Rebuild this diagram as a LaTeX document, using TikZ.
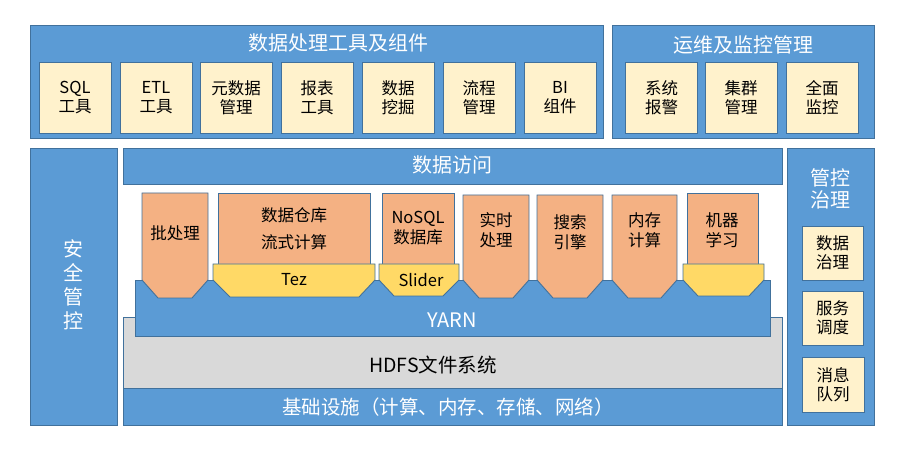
\documentclass[tikz,border=0pt]{standalone}
\usepackage{fontspec}
\setmainfont{Noto Sans CJK SC}
\definecolor{panelBlue}{HTML}{5B9BD5}
\definecolor{edgeBlue}{HTML}{41719C}
\definecolor{boxYellow}{HTML}{FFF2CC}
\definecolor{procOrange}{HTML}{F4B183}
\definecolor{engYellow}{HTML}{FFD966}
\definecolor{fsGray}{HTML}{D9D9D9}

\begin{document}
\begin{tikzpicture}[x = 1pt, y = -1pt]
	\tikzstyle{panelStyle} = [draw = edgeBlue, fill = panelBlue, line width = 0.9pt]
	\tikzstyle{titleStyle} = [text = white, align = center, inner sep = 0pt, font = \fontsize{20}{22}\selectfont]
	\tikzstyle{boxStyle} = [draw = edgeBlue, fill = boxYellow, line width = 0.9pt, align = center, inner sep = 0pt, font = \fontsize{16.5}{19}\selectfont]
	\tikzstyle{procStyle} = [draw = edgeBlue, fill = procOrange, line width = 0.9pt]
	\tikzstyle{engStyle} = [draw = edgeBlue, fill = engYellow, line width = 0.9pt]
	\tikzstyle{procText} = [align = center, inner sep = 0pt, font = \fontsize{16.5}{20}\selectfont]
	\useasboundingbox (0,0) rectangle (903,449);
	\draw[panelStyle] (30,25) rectangle (603,138);
	\node[titleStyle] (procTitle) at (338,43) {数据处理工具及组件};
	\foreach \x/\n/\t in {75/sqlTool/{SQL\\工具}, 156/etlTool/{ETL\\工具}, 236/metaTool/{元数据\\管理}, 317/reportTool/{报表\\工具}, 398/miningTool/{数据\\挖掘}, 479/flowTool/{流程\\管理}, 560/biTool/{BI\\组件}}
		\node[boxStyle, minimum width = 72pt, minimum height = 71pt] (\n) at (\x,97.5) {\t};
	\draw[panelStyle] (612,25) rectangle (874,138);
	\node[titleStyle] (opsTitle) at (743,45) {运维及监控管理};
	\foreach \x/\n/\t in {661.5/alarmBox/{系统\\报警}, 741/clusterBox/{集群\\管理}, 822/monitorBox/{全面\\监控}}
		\node[boxStyle, minimum width = 72pt, minimum height = 71pt] (\n) at (\x,97.5) {\t};
	\draw[panelStyle] (30,148) rectangle (117,425);
	\node[titleStyle, font = \fontsize{20}{24}\selectfont] (secTitle) at (73,285) {安\\全\\管\\控};
	\draw[panelStyle] (123,148) rectangle (782,184);
	\node[titleStyle] (accessTitle) at (452,165) {数据访问};
	\draw[panelStyle] (787,148) rectangle (874,425);
	\node[titleStyle] (govTitle) at (830,189) {管控\\治理};
	\node[boxStyle, minimum width = 61pt, minimum height = 54pt] (dataGov) at (832.5,253) {数据\\治理};
	\node[boxStyle, minimum width = 61pt, minimum height = 54pt] (serviceSched) at (832.5,318) {服务\\调度};
	\node[boxStyle, minimum width = 62pt, minimum height = 55pt] (msgQueue) at (833,384.5) {消息\\队列};
	\draw[draw = edgeBlue, fill = fsGray, line width = 0.9pt] (123,317) rectangle (782,388);
	\node[inner sep = 0pt, font = \fontsize{19.5}{22}\selectfont] (hdfs) at (433,365) {HDFS文件系统};
	\draw[panelStyle] (123,388) rectangle (782,425);
	\node[titleStyle, font = \fontsize{19.5}{22}\selectfont] (infra) at (448,407) {基础设施（计算、内存、存储、网络）};
	\draw[panelStyle] (135,280) rectangle (770,336);
	\node[titleStyle] (yarn) at (452,320) {YARN};
	\foreach \a/\b/\top in {142/208/193, 463/529/195, 537/603/195, 612/677/195}
		\draw[procStyle] (\a,\top) -- (\b,\top) -- (\b,280) -- (\b-16,298) -- (\a+16,298) -- (\a,280) -- cycle;
	\draw[procStyle] (218,193) rectangle (370,264);
	\draw[procStyle] (382,193) rectangle (454,264);
	\draw[procStyle] (687,193) rectangle (758,264);
	\draw[engStyle] (213,264) -- (375,264) -- (375,280) -- (359,297) -- (230,297) -- (213,280) -- cycle;
	\draw[engStyle] (379,264) -- (459,264) -- (459,280) -- (443,296) -- (394,296) -- (379,280) -- cycle;
	\draw[engStyle] (683,264) -- (764,264) -- (764,280) -- (749,296) -- (698,296) -- (683,280) -- cycle;
	\node[procText] (batch) at (175,233) {批处理};
	\node[procText, font = \fontsize{16.5}{27}\selectfont] (warehouse) at (294,228.5) {数据仓库\\流式计算};
	\node[procText] (nosql) at (418,228) {NoSQL\\数据库};
	\node[procText] (realtime) at (496,230) {实时\\处理};
	\node[procText] (search) at (570,232) {搜索\\引擎};
	\node[procText] (memory) at (644.5,230) {内存\\计算};
	\node[procText] (learning) at (722,230) {机器\\学习};
	\node[procText] (tez) at (294,280) {Tez};
	\node[procText] (slider) at (421,280) {Slider};
\end{tikzpicture}
\end{document}
